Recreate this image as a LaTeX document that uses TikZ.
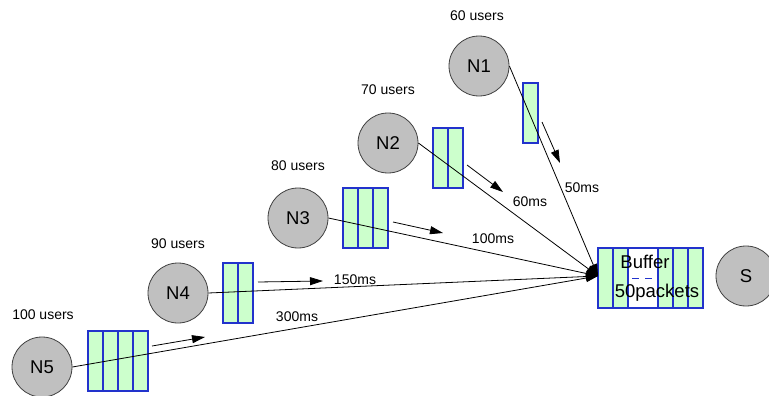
\documentclass[tikz,border=0pt]{standalone}
\usepackage{fontspec}
\setmainfont{Liberation Sans}
\usetikzlibrary{arrows.meta}
\definecolor{nodefill}{HTML}{C0C0C0}
\definecolor{qfill}{HTML}{CCFFCC}
\definecolor{qline}{HTML}{2233CC}
\begin{document}
\begin{tikzpicture}[x=1pt,y=-1pt,
  station/.style={circle,draw=black!75,fill=nodefill,line width=0.8pt,minimum size=60pt,inner sep=0pt,font=\fontsize{18.5}{20}\selectfont},
  qcell/.style={draw=qline,fill=qfill,line width=1.1pt,minimum height=60pt,minimum width=15pt,inner sep=0pt},
  lbl/.style={font=\fontsize{14}{16}\selectfont,inner sep=0pt},
  bufl/.style={font=\fontsize{18.5}{20}\selectfont,inner sep=0pt},
  link/.style={line width=0.8pt,-{Triangle[length=12pt,width=8pt]}},
  flow/.style={line width=0.8pt,-{Triangle[length=13pt,width=8pt]}}]
\useasboundingbox (0,0) rectangle (769,396);

% stations
\node[station] (N1) at (479,66) {N1};
\node[station] (N2) at (388,143) {N2};
\node[station] (N3) at (298,218) {N3};
\node[station] (N4) at (178,293) {N4};
\node[station] (N5) at (42,367) {N5};
\node[station] (S) at (746,276) {S};

% user labels
\node[lbl] (u1) at (477,16) {60 users};
\node[lbl] (u2) at (388,90) {70 users};
\node[lbl] (u3) at (298,166) {80 users};
\node[lbl] (u4) at (178,244) {90 users};
\node[lbl] (u5) at (43,315) {100 users};

% queues
\node[qcell] (q1a) at (530.5,113) {};
\foreach \x [count=\i] in {440.5,455.5} \node[qcell] (q2-\i) at (\x,158) {};
\foreach \x [count=\i] in {350.5,365.5,380.5} \node[qcell] (q3-\i) at (\x,218) {};
\foreach \x [count=\i] in {230.5,245.5} \node[qcell] (q4-\i) at (\x,293) {};
\foreach \x [count=\i] in {95.5,110.5,125.5,140.5} \node[qcell] (q5-\i) at (\x,361) {};

% buffer
\node[qcell] (b1) at (605.5,278) {};
\node[qcell] (b2) at (620.5,278) {};
\node[qcell,fill=white,minimum width=30pt] (b3) at (643,278) {};
\node[qcell] (b4) at (665.5,278) {};
\node[qcell] (b5) at (680.5,278) {};
\node[qcell] (b6) at (695.5,278) {};
\draw[qline,line width=1pt,dash pattern=on 6.5pt off 6.5pt] (632,278) -- (652,278);
\node[bufl] (buftxt) at (645,262) {Buffer};
\node[bufl] (bufpk) at (657,293) {50packets};

\coordinate (bin) at (598,276);

% main links
\draw[link] (N1.east) -- (bin);
\draw[link] (N2.east) -- (bin);
\draw[link] (N3.east) -- (bin);
\draw[link] (N4.east) -- (bin);
\draw[link] (N5.east) -- (bin);

% flow arrows
\coordinate (a1s) at (542,122); \coordinate (a1e) at (560,163);
\coordinate (a2s) at (467,165); \coordinate (a2e) at (503,192);
\coordinate (a3s) at (393,222); \coordinate (a3e) at (443,233);
\coordinate (a4s) at (258,282); \coordinate (a4e) at (323,281);
\coordinate (a5s) at (152,346); \coordinate (a5e) at (205,337);
\draw[flow] (a1s) -- (a1e);
\draw[flow] (a2s) -- (a2e);
\draw[flow] (a3s) -- (a3e);
\draw[flow] (a4s) -- (a4e);
\draw[flow] (a5s) -- (a5e);

% delay labels
\node[lbl] (d1) at (582,188) {50ms};
\node[lbl] (d2) at (530,202) {60ms};
\node[lbl] (d3) at (493,239) {100ms};
\node[lbl] (d4) at (355,280) {150ms};
\node[lbl] (d5) at (297,317) {300ms};
\end{tikzpicture}
\end{document}
